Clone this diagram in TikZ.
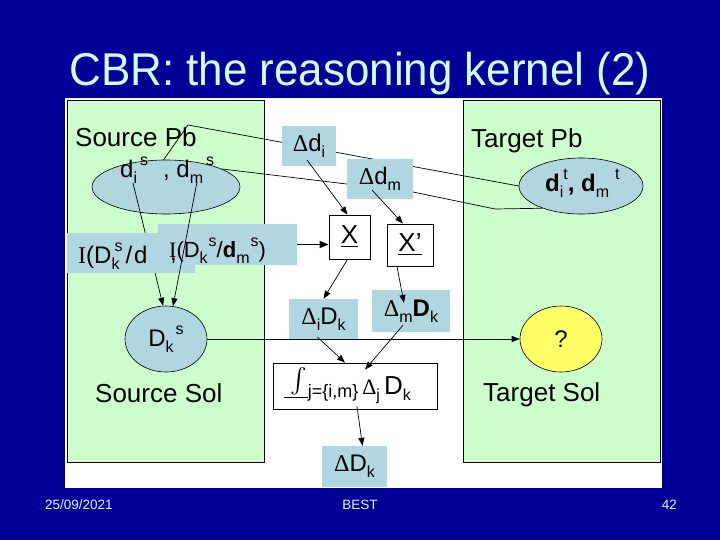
\documentclass[tikz,border=0pt]{standalone}
\usepackage{fontspec}
\usepackage{exscale}
\setmainfont{Liberation Sans}
\newfontfamily\serifff{Liberation Serif}
\usetikzlibrary{shapes.geometric,arrows.meta,calc}
\definecolor{bgblue}{RGB}{0,0,153}
\definecolor{titlecol}{RGB}{204,255,255}
\definecolor{panelgreen}{RGB}{204,255,204}
\definecolor{nodeblue}{RGB}{176,214,224}
\definecolor{qyellow}{RGB}{255,255,102}
\newcommand{\dnx}[1]{\raisebox{-0.25em}{\fontsize{16}{16}\selectfont #1}}
\newcommand{\upx}[1]{\raisebox{0.5em}{\fontsize{16}{16}\selectfont #1}}
\newcommand{\Dlt}{{\serifff Δ}}
\tikzset{
  bbox/.style={fill=nodeblue, inner sep=0pt, font=\fontsize{24}{24}\selectfont},
  wbox/.style={fill=white, draw=black, line width=0.8pt, inner sep=0pt},
  ell/.style={ellipse, draw=black, line width=0.6pt, fill=nodeblue, inner sep=0pt, font=\fontsize{24}{24}\selectfont},
  conn/.style={line width=0.7pt},
  arr/.style={conn, -{Triangle[length=8pt,width=6pt]}},
  lbl/.style={font=\fontsize{26}{26}\selectfont, inner sep=0pt},
  txt/.style={inner sep=0pt, font=\fontsize{24}{24}\selectfont},
  foot/.style={inner sep=0pt, text=titlecol, font=\fontsize{13.5}{14}\selectfont}
}
\begin{document}
\begin{tikzpicture}[x=1pt,y=-1pt]
\useasboundingbox (0,0) rectangle (720,540);
\fill[bgblue] (0,0) rectangle (720,540);
\fill[white] (65,98) rectangle (662,488);
\draw[fill=panelgreen, line width=0.7pt] (67,100) rectangle (264,462);
\draw[fill=panelgreen, line width=0.7pt] (463,100) rectangle (660,462);
% title
\node[anchor=base, inner sep=0pt, text=titlecol, font=\fontsize{46}{46}\selectfont] (title) at (360,86) {\scalebox{0.955}[1]{CBR: the reasoning kernel (2)}};
% labels
\node[lbl, anchor=base west] (srcpb) at (75,147) {Source Pb};
\node[lbl, anchor=base west] (tgtpb) at (471,148) {Target Pb};
\node[lbl, anchor=base west] (srcsol) at (95,402) {Source Sol};
\node[lbl, anchor=base west] (tgtsol) at (483,401) {Target Sol};
% ellipses
\node[ell, minimum width=148, minimum height=54] (srcE) at (166,187) {};
\node[txt, anchor=base west] (srcEt) at (120,178) {d\dnx{i}\hspace{3pt}\upx{s}\hspace{15pt}, d\dnx{m}\hspace{3pt}\upx{s}};
\node[ell, minimum width=124, minimum height=56] (tgtE) at (581,186) {};
\node[txt, anchor=base west] (tgtEt) at (545,192) {\textbf{d}\dnx{i}\upx{t}\textbf{, d}\dnx{m}\hspace{6pt}\upx{t}};
\node[ell, minimum width=82, minimum height=66] (dks) at (166,339) {D\dnx{k}\hspace{2pt}\upx{s}};
\node[ell, fill=qyellow, minimum width=82, minimum height=66] (qE) at (561,339) {?};
% lines behind boxes
\coordinate (aBend) at (188,125);
\draw[conn] (srcE.95) -- (aBend) -- (tgtE.west);
\coordinate (bB1) at (413,192);
\coordinate (bB2) at (495,209);
\draw[conn] (srcE.18) -- (bB1) -- (bB2) -- (tgtE.210);
\coordinate (l1s) at (133,183);
\draw[arr] (l1s) -- (dks.95);
% boxes
\node[bbox, minimum width=54, minimum height=40] (di) at (309,146) {\Dlt d\dnx{i}};
\node[bbox, minimum width=66, minimum height=40] (dm) at (380,179) {\Dlt d\dnx{m}};
\node[bbox, minimum width=128, minimum height=40] (I1) at (131,253) {};
\node[txt, anchor=base west] (I1t) at (78,263) {{\serifff I}(D\rlap{\dnx{k}}\hspace{3pt}\upx{s}\hspace{3pt}/\hspace{2pt}d};
\node[bbox, minimum width=139, minimum height=41] (I2) at (227.5,244.5) {};
\node[txt, font=\fontsize{22}{22}\selectfont, anchor=base west] (I2t) at (169,258) {{\serifff I}(D\dnx{k}\hspace{1pt}\upx{s}/\textbf{d}\dnx{m}\hspace{1pt}\upx{s})};
\node[txt, anchor=base west] (comma) at (170,260) {,};
\coordinate (l2s) at (197,182);
\draw[arr] (l2s) -- (dks.78);
\node[wbox, minimum width=41, minimum height=44, font=\fontsize{26}{26}\selectfont] (X) at (349.5,237) {\underline{X}};
\node[wbox, minimum width=46, minimum height=42, font=\fontsize{26}{26}\selectfont] (Xp) at (410,245) {\underline{X’}};
\node[bbox, minimum width=69, minimum height=40] (DiDk) at (323.5,319) {\Dlt\dnx{i}D\dnx{k}};
\node[bbox, minimum width=78, minimum height=42] (DmDk) at (411,311) {\Dlt\dnx{m}\textbf{D}\dnx{k}};
\node[wbox, minimum width=164, minimum height=46] (int) at (355,386) {};
\node[txt, font=\fontsize{26}{26}\selectfont, anchor=base west] (intt) at (284,394) {\underline{\hspace{6pt}\smash{\raisebox{6pt}{\fontsize{24}{24}\selectfont$\int$}}\hspace{1pt}}\raisebox{-0.12em}{\fontsize{18}{18}\selectfont j=\{i,m\}}\hspace{4pt}{\fontsize{22}{22}\selectfont\Dlt}\dnx{j}\hspace{4pt}D\dnx{k}};
\node[bbox, minimum width=65, minimum height=41] (DD) at (354.5,466.5) {\Dlt D\dnx{k}};
% arrows
\draw[conn, line width=1.5pt, -{Triangle[length=9pt,width=7pt]}] (I2.east) -- (I2.east -| X.west);
\coordinate (diOut) at (307,160);
\draw[arr] (diOut) -- ($(X.north)+(-2,0)$);
\coordinate (dmOut) at (372,190);
\draw[arr] (dmOut) -- ($(Xp.north)+(-7,0)$);
\draw[arr] ($(X.south)+(-2,0)$) -- (DiDk.north);
\draw[arr] ($(Xp.south)+(-13,0)$) -- ($(DmDk.center)+(-7,-8)$);
\draw[arr] ($(DiDk.south)+(-6,-2)$) -- ($(int.north)+(-10,0)$);
\draw[arr] ($(DmDk.south)+(-8,-7)$) -- ($(int.north)+(10,7)$);
\draw[arr] ($(int.south)+(2,-3)$) -- ($(DD.north)+(8,0)$);
\draw[arr] (dks.east) -- (qE.west);
% footer
\node[foot, anchor=base west] (date) at (45,509) {25/09/2021};
\node[foot, anchor=base] (best) at (360,509) {BEST};
\node[foot, anchor=base east] (page) at (677,509) {42};
\end{tikzpicture}
\end{document}
